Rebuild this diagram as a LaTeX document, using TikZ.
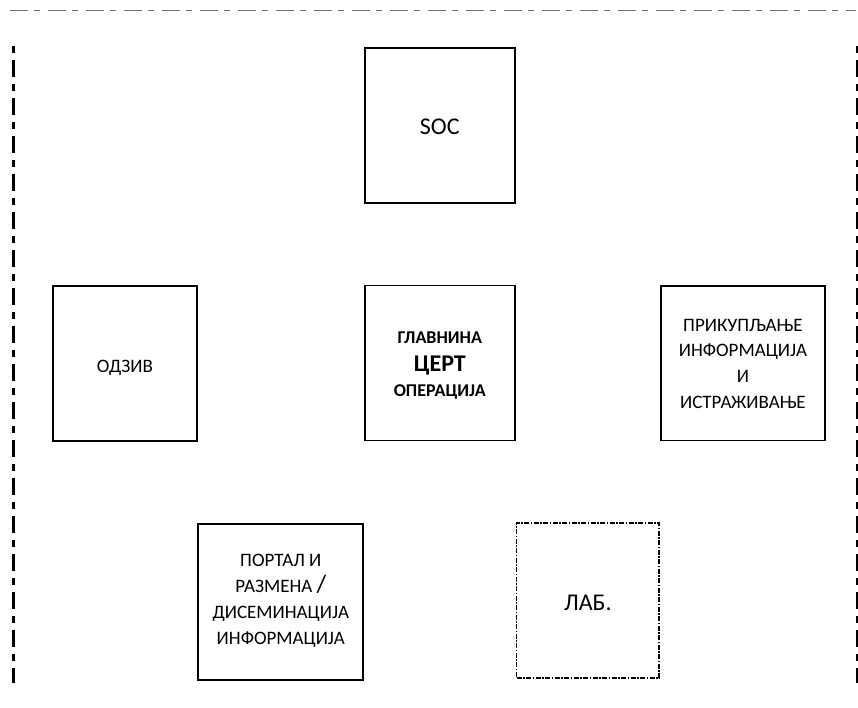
\documentclass[tikz,border=0pt]{standalone}
\usepackage{fontspec}
\setmainfont{Carlito}
\tikzset{
  box/.style={draw=black, line width=1.9pt, align=center, inner sep=0pt, text depth=0pt},
  labbox/.style={draw=black, line width=1.6pt, align=center, inner sep=0pt, text depth=0pt,
    dash pattern=on 5pt off 1.5pt on 1.5pt off 1.5pt},
  frametop/.style={draw=black!55, line width=1pt, dash pattern=on 18pt off 6pt on 6pt off 8pt},
  frameside/.style={draw=black, line width=3pt, dash pattern=on 6.5pt off 7pt on 17.5pt off 7pt},
}
\begin{document}
\begin{tikzpicture}[x=1pt,y=-1pt]
\useasboundingbox (0,0) rectangle (858,707);
% outer frame
\draw[frametop] (10,10) -- (856,10);
\draw[frameside] (13,46) -- (13,683);
\draw[frameside] (857,46) -- (857,683);
% boxes
\node[box, minimum width=150.5pt, minimum height=155.5pt, text height=17.2pt,
  font=\fontsize{24}{28}\selectfont] (soc) at (439.8,125.4) {SOC};
\node[box, minimum width=143.7pt, minimum height=154.7pt, text height=18.8pt,
  font=\fontsize{19}{24}\selectfont] (odziv) at (124.9,363.3) {ОДЗИВ};
\node[box, minimum width=150.5pt, minimum height=155pt, text height=67.4pt,
  font=\bfseries\fontsize{18}{25}\selectfont] (cert) at (439.8,363)
  {ГЛАВНИНА\\[3.7pt]{\fontsize{24}{25}\selectfont ЦЕРТ}\\ОПЕРАЦИЈА};
\node[box, minimum width=163.7pt, minimum height=154.5pt, text height=90.2pt,
  font=\fontsize{19}{25.7}\selectfont] (prik) at (742.9,363.2)
  {ПРИКУПЉАЊЕ\\ИНФОРМАЦИЈА\\И\\ИСТРАЖИВАЊЕ};
\node[box, minimum width=165pt, minimum height=156pt, text height=84.6pt,
  font=\fontsize{19}{26}\selectfont] (portal) at (280.8,601.7)
  {ПОРТАЛ И\\РАЗМЕНА {\fontsize{25}{26}\selectfont /}\\ДИСЕМИНАЦИЈА\\ИНФОРМАЦИЈА};
\node[labbox, minimum width=142.7pt, minimum height=155pt, text height=20pt,
  font=\fontsize{24}{28}\selectfont] (lab) at (587.9,600.7) {ЛАБ.};
\end{tikzpicture}
\end{document}
